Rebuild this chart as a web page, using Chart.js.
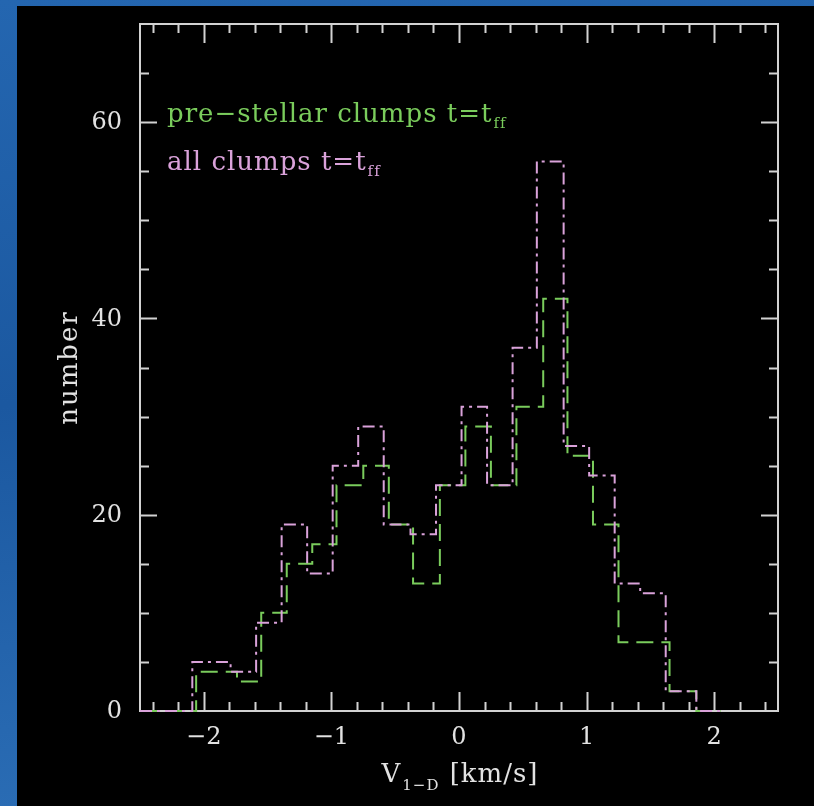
<!DOCTYPE html>
<html>
<head>
<meta charset="utf-8">
<title>V1-D distribution of clumps</title>
<script src="https://cdn.jsdelivr.net/npm/chart.js@4.4.1/dist/chart.umd.min.js"></script>
<style>
  html, body { margin: 0; padding: 0; background: #1f5da6; }
  #wrap { position: relative; width: 814px; height: 806px; }
</style>
</head>
<body>
<div id="wrap"><canvas id="hist" width="814" height="806"></canvas></div>
<script>
// Histogram steps: each edge starts a bin holding the count at the same index.
var allEdges  = [-2.5, -2.09, -1.79, -1.59, -1.39, -1.19, -0.99, -0.79, -0.59, -0.38, -0.18,
                 0.02, 0.22, 0.42, 0.61, 0.82, 1.02, 1.22, 1.42, 1.62, 1.86, 2.05];
var allCounts = [0, 5, 4, 9, 19, 14, 25, 29, 19, 18, 23,
                 31, 23, 37, 56, 27, 24, 13, 12, 2, 0, 0];

var preEdges  = [-2.5, -2.06, -1.74, -1.55, -1.35, -1.15, -0.96, -0.75, -0.55, -0.36, -0.15,
                 0.05, 0.25, 0.45, 0.66, 0.85, 1.05, 1.25, 1.65, 1.86, 2.05];
var preCounts = [0, 4, 3, 10, 15, 17, 23, 25, 19, 13, 23,
                 29, 23, 31, 42, 26, 19, 7, 2, 0, 0];

var xMajorTicks  = [-2, -1, 0, 1, 2];
var xTickLabels  = ['\u22122', '\u22121', '0', '1', '2'];
var yMajorTicks  = [0, 20, 40, 60];
var yTickLabels  = ['0', '20', '40', '60'];

(function () {
  'use strict';

  var GREEN = 'rgb(122, 204, 92)';
  var PINK  = 'rgb(218, 162, 218)';
  var AXIS  = '#d2d2d2';
  var TEXT  = '#e2e2e2';
  var SERIF = '"DejaVu Serif", "Liberation Serif", serif';

  function toPoints(edges, counts) {
    return edges.map(function (x, i) { return { x: x, y: counts[i] }; });
  }

  // text with a lowered, smaller trailing part (t_ff, V_1-D)
  function drawWithSub(ctx, x, y, main, sub, size, subSize, drop) {
    ctx.font = size + 'px ' + SERIF;
    ctx.fillText(main, x, y);
    var w = ctx.measureText(main).width;
    ctx.font = subSize + 'px ' + SERIF;
    ctx.fillText(sub, x + w + 1, y + drop);
    return w + 1 + ctx.measureText(sub).width;
  }

  // ── Frame, inward ticks and labels ─────────────────────────────────── //
  var frame = {
    id: 'frame',
    beforeDraw: function (chart) {
      var ctx = chart.ctx;
      ctx.save();
      var g = ctx.createLinearGradient(0, 0, 60, 806);
      g.addColorStop(0, '#2466b0');
      g.addColorStop(0.5, '#1b58a0');
      g.addColorStop(1, '#2a6cb4');
      ctx.fillStyle = g;
      ctx.fillRect(0, 0, chart.width, chart.height);
      ctx.fillStyle = '#000';
      ctx.fillRect(17, 6, chart.width - 17, chart.height - 6);
      ctx.restore();
    },
    beforeDatasetsDraw: function (chart) {
      var ctx = chart.ctx, a = chart.chartArea;
      var xs = chart.scales.x, ys = chart.scales.y;
      var i, v, px, len;
      ctx.save();
      ctx.strokeStyle = AXIS;
      ctx.lineWidth = 2;
      ctx.strokeRect(a.left, a.top, a.right - a.left, a.bottom - a.top);

      ctx.beginPath();
      // x ticks every 0.2, longer on whole numbers
      for (i = -12; i <= 12; i++) {
        v = i / 5;
        px = Math.round(xs.getPixelForValue(v)) + 0.5;
        len = (i % 5 === 0) ? 19 : 9;
        ctx.moveTo(px, a.bottom); ctx.lineTo(px, a.bottom - len);
        ctx.moveTo(px, a.top);    ctx.lineTo(px, a.top + len);
      }
      // y ticks every 5, longer every 20
      for (i = 1; i < 14; i++) {
        v = i * 5;
        px = Math.round(ys.getPixelForValue(v)) + 0.5;
        len = (v % 20 === 0) ? 17 : 9;
        ctx.moveTo(a.left, px);  ctx.lineTo(a.left + len, px);
        ctx.moveTo(a.right, px); ctx.lineTo(a.right - len, px);
      }
      ctx.stroke();

      ctx.fillStyle = TEXT;
      ctx.font = '24px ' + SERIF;
      ctx.textAlign = 'center';
      ctx.textBaseline = 'middle';
      xMajorTicks.forEach(function (t, k) {
        ctx.fillText(xTickLabels[k], xs.getPixelForValue(t), a.bottom + 27);
      });
      ctx.textAlign = 'right';
      yMajorTicks.forEach(function (t, k) {
        ctx.fillText(yTickLabels[k], a.left - 18, ys.getPixelForValue(t) + 1);
      });

      // axis titles
      ctx.textBaseline = 'alphabetic';
      ctx.textAlign = 'left';
      ctx.letterSpacing = '1px';
      ctx.font = '26px ' + SERIF;
      var wV = ctx.measureText('V').width;
      var wU = ctx.measureText(' [km/s]').width;
      ctx.font = '15px ' + SERIF;
      var wS = ctx.measureText('1\u2212D').width;
      var x0 = (a.left + a.right) / 2 + 1 - (wV + wS + wU + 2) / 2;
      var used = drawWithSub(ctx, x0, 782, 'V', '1\u2212D', 26, 15, 8);
      ctx.font = '26px ' + SERIF;
      ctx.fillText(' [km/s]', x0 + used + 1, 782);

      ctx.translate(77, (a.top + a.bottom) / 2);
      ctx.rotate(-Math.PI / 2);
      ctx.textAlign = 'center';
      ctx.letterSpacing = '2px';
      ctx.fillText('number', 0, 0);
      ctx.restore();
    },
    afterDatasetsDraw: function (chart) {
      var ctx = chart.ctx;
      ctx.save();
      ctx.textAlign = 'left';
      ctx.textBaseline = 'alphabetic';
      ctx.letterSpacing = '1px';
      ctx.fillStyle = GREEN;
      drawWithSub(ctx, 167, 122, 'pre\u2212stellar clumps t=t', 'ff', 26, 15, 6);
      ctx.fillStyle = PINK;
      drawWithSub(ctx, 167, 170, 'all clumps t=t', 'ff', 26, 15, 6);
      ctx.restore();
    }
  };

  // ── Chart ──────────────────────────────────────────────────────────── //
  // 'before' keeps each count flat until the next edge, then steps
  new Chart(document.getElementById('hist').getContext('2d'), {
    type: 'line',
    data: {
      datasets: [{
        label: 'all clumps t=t_ff',
        data: toPoints(allEdges, allCounts),
        stepped: 'before',
        borderColor: PINK,
        borderWidth: 2,
        borderDash: [12, 5, 3, 5],
        pointRadius: 0,
        fill: false,
        clip: false
      }, {
        label: 'pre-stellar clumps t=t_ff',
        data: toPoints(preEdges, preCounts),
        stepped: 'before',
        borderColor: GREEN,
        borderWidth: 2,
        borderDash: [17, 8],
        pointRadius: 0,
        fill: false,
        clip: false
      }]
    },
    options: {
      responsive: false,
      animation: false,
      devicePixelRatio: 1,
      layout: { padding: { left: 140, top: 24, right: 36, bottom: 95 } },
      plugins: { legend: { display: false }, tooltip: { enabled: false } },
      scales: {
        x: { type: 'linear', min: -2.5, max: 2.5, display: false },
        y: { type: 'linear', min: 0, max: 70, display: false }
      }
    },
    plugins: [frame]
  });
})();
</script>
</body>
</html>
